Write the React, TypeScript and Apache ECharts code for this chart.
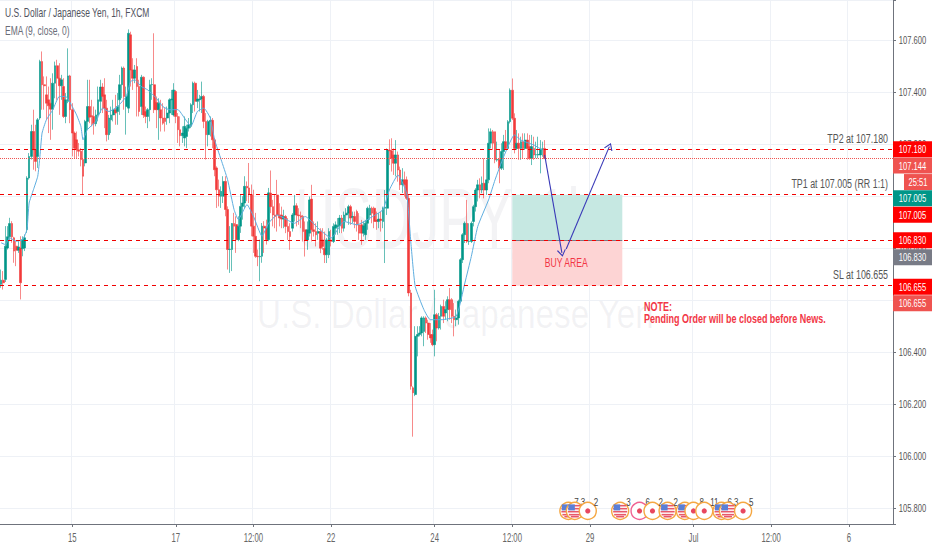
import React, { useEffect, useRef } from "react";
import * as echarts from "echarts";

const barCount = 414;
const tickBars = [33, 81, 117, 153, 201, 237, 273, 321, 357, 393];
const tickLabels = ["15", "17", "12:00", "22", "24", "12:00", "29", "Jul", "12:00", "6"];
const priceTicks = [107.6, 107.4, 107.2, 107.0, 106.8, 106.6, 106.4, 106.2, 106.0, 105.8];

const opens = [106.660,106.676,106.679,106.800,106.843,106.894,106.839,106.807,106.791,106.800,106.797,106.800,106.871,107.069,107.152,107.248,107.178,107.152,107.300,107.517,
107.428,107.389,107.370,107.357,107.334,107.434,107.501,107.453,107.424,107.421,107.306,107.364,107.462,107.332,107.242,107.216,107.178,107.172,107.140,107.127,
107.287,107.344,107.309,107.306,107.278,107.312,107.364,107.419,107.389,107.338,107.236,107.293,107.312,107.332,107.325,107.370,107.428,107.492,107.344,107.338,
107.620,107.485,107.453,107.498,107.421,107.344,107.457,107.325,107.306,107.332,107.428,107.428,107.360,107.332,107.332,107.300,107.300,107.300,107.319,107.370,
107.312,107.402,107.306,107.255,107.232,107.223,107.229,107.261,107.268,107.351,107.434,107.364,107.370,107.373,107.383,107.287,107.236,107.287,107.291,107.216,
107.108,107.024,106.999,106.999,107.056,106.948,106.794,106.794,106.894,106.890,106.832,106.884,106.960,106.973,107.037,107.031,107.005,106.884,106.845,106.768,
106.766,106.768,106.884,106.877,106.832,107.011,106.959,106.927,107.004,106.927,106.927,106.911,106.921,106.883,106.863,106.876,106.927,106.962,106.927,106.924,
106.921,106.870,106.831,106.857,106.988,106.870,106.863,106.857,106.863,106.831,106.799,106.774,106.774,106.831,106.825,106.876,106.883,106.885,106.915,106.876,
106.927,106.934,106.959,106.918,106.921,106.940,106.889,106.889,106.857,106.851,106.895,106.927,106.953,106.953,106.908,106.902,106.911,106.902,106.953,106.953,
107.177,107.174,107.158,107.126,107.158,107.100,107.043,107.062,107.062,106.991,106.627,106.262,106.236,106.460,106.467,106.473,106.479,106.531,106.511,106.467,
106.467,106.428,106.543,106.492,106.537,106.575,106.550,106.563,106.601,106.601,106.537,106.524,106.531,106.595,106.755,106.851,106.895,106.825,106.825,106.902,
106.959,107.023,107.043,107.023,107.049,107.023,107.062,107.203,107.247,107.247,107.139,107.139,107.107,107.171,107.209,107.183,107.286,107.407,107.299,107.183,
107.203,107.183,107.209,107.183,107.215,107.190,107.145,107.183,107.158,107.158,107.158,107.180,107.183];

const closes = [106.676,106.666,106.807,106.843,106.894,106.843,106.788,106.791,106.804,106.666,106.832,106.839,107.069,107.152,107.248,107.178,107.133,107.293,107.517,107.428,
107.424,107.357,107.347,107.334,107.434,107.501,107.453,107.424,107.447,107.306,107.370,107.462,107.332,107.242,107.184,107.178,107.172,107.140,107.076,107.287,
107.344,107.303,107.306,107.278,107.312,107.370,107.419,107.383,107.338,107.236,107.300,107.312,107.332,107.319,107.344,107.428,107.492,107.383,107.383,107.626,
107.485,107.453,107.485,107.421,107.325,107.457,107.312,107.306,107.332,107.428,107.429,107.332,107.332,107.357,107.300,107.280,107.287,107.319,107.370,107.373,
107.408,107.306,107.255,107.232,107.242,107.268,107.261,107.274,107.351,107.434,107.364,107.373,107.373,107.383,107.287,107.236,107.287,107.291,107.216,107.101,
107.024,106.999,107.018,107.056,106.948,106.794,106.795,106.894,106.884,106.832,106.884,106.960,106.973,107.037,107.031,107.005,106.884,106.845,106.768,106.766,
106.768,106.884,106.877,106.832,107.012,106.959,106.927,106.921,106.927,106.915,106.911,106.921,106.883,106.863,106.844,106.927,106.962,106.927,106.924,106.918,
106.863,106.831,106.870,106.985,106.870,106.863,106.851,106.863,106.799,106.806,106.774,106.831,106.863,106.825,106.883,106.889,106.885,106.915,106.876,106.927,
106.934,106.959,106.915,106.921,106.902,106.889,106.857,106.857,106.885,106.895,106.953,106.953,106.934,106.902,106.902,106.911,106.906,106.953,106.957,107.177,
107.174,107.145,107.126,107.158,107.100,107.043,107.062,107.043,106.991,106.627,106.268,106.243,106.460,106.467,106.473,106.531,106.531,106.511,106.467,106.454,
106.428,106.543,106.492,106.537,106.575,106.537,106.563,106.601,106.563,106.537,106.524,106.531,106.595,106.755,106.851,106.895,106.825,106.826,106.895,106.959,
107.023,107.043,107.023,107.049,107.023,107.062,107.203,107.247,107.203,107.139,107.140,107.107,107.171,107.209,107.183,107.286,107.407,107.299,107.183,107.203,
107.183,107.209,107.183,107.215,107.183,107.145,107.190,107.158,107.159,107.160,107.180,107.181,107.144];

const highs = [106.717,106.711,106.884,106.884,106.916,106.903,106.843,106.826,106.826,106.845,106.845,106.852,107.076,107.165,107.274,107.332,107.274,107.300,107.524,107.556,
107.460,107.460,107.421,107.453,107.472,107.517,107.524,107.511,107.466,107.453,107.396,107.568,107.466,107.357,107.248,107.248,107.204,107.184,107.178,107.293,
107.447,107.447,107.370,107.344,107.332,107.421,107.447,107.434,107.453,107.370,107.312,107.344,107.370,107.389,107.396,107.466,107.498,107.498,107.421,107.641,
107.632,107.530,107.504,107.530,107.447,107.466,107.460,107.344,107.338,107.447,107.453,107.626,107.383,107.376,107.370,107.357,107.338,107.344,107.376,107.408,
107.434,107.408,107.319,107.306,107.268,107.306,107.274,107.300,107.357,107.440,107.440,107.408,107.389,107.440,107.389,107.319,107.293,107.306,107.300,107.223,
107.114,107.063,107.037,107.076,107.076,106.960,106.884,106.896,106.935,106.922,106.922,107.005,106.999,107.076,107.056,107.127,107.044,107.024,106.935,106.794,
106.832,106.896,106.903,106.909,107.031,107.098,106.985,107.004,107.062,106.972,106.959,106.947,106.927,106.915,106.895,106.934,107.004,106.972,106.953,106.940,
106.927,106.902,106.902,106.998,107.043,106.902,106.895,106.902,106.876,106.876,106.863,106.838,106.876,106.870,106.895,106.902,106.915,106.927,106.927,106.940,
106.953,106.966,106.966,106.940,106.940,106.947,106.934,106.908,106.902,106.908,106.959,106.966,106.959,106.959,106.940,106.934,106.940,106.959,107.023,107.183,
107.218,107.222,107.183,107.215,107.171,107.113,107.107,107.094,107.075,107.004,106.639,106.268,106.499,106.499,106.499,106.537,106.537,106.537,106.524,106.511,
106.486,106.639,106.550,106.550,106.582,106.601,106.595,106.614,106.646,106.607,106.588,106.563,106.601,106.761,106.857,106.902,106.985,106.895,106.902,106.966,
107.030,107.062,107.068,107.075,107.145,107.139,107.260,107.260,107.254,107.247,107.209,107.177,107.203,107.235,107.254,107.292,107.414,107.452,107.318,107.254,
107.241,107.228,107.241,107.241,107.241,107.235,107.235,107.228,107.209,107.228,107.215,107.209,107.215];

const lows = [106.647,106.640,106.669,106.794,106.826,106.820,106.743,106.730,106.781,106.602,106.768,106.788,106.858,107.063,107.140,107.101,107.095,107.108,107.293,107.332,
107.332,107.293,107.242,107.216,107.255,107.376,107.370,107.312,107.370,107.300,107.280,107.357,107.280,107.152,107.146,107.146,107.152,107.114,107.005,107.114,
107.255,107.280,107.268,107.236,107.268,107.287,107.319,107.319,107.261,107.210,107.216,107.242,107.287,107.274,107.274,107.312,107.376,107.332,107.236,107.319,
107.421,107.408,107.434,107.306,107.306,107.312,107.300,107.280,107.261,107.287,107.370,107.319,107.261,107.216,107.248,107.274,107.248,107.274,107.280,107.312,
107.306,107.280,107.204,107.191,107.204,107.191,107.184,107.248,107.261,107.319,107.325,107.338,107.325,107.319,107.261,107.140,107.191,107.229,107.184,107.076,
106.954,106.960,106.954,106.973,106.922,106.717,106.704,106.711,106.832,106.781,106.826,106.858,106.909,106.954,106.980,106.973,106.845,106.781,106.762,106.730,
106.672,106.743,106.781,106.813,106.826,106.934,106.883,106.876,106.863,106.883,106.876,106.876,106.857,106.831,106.793,106.863,106.902,106.883,106.889,106.876,
106.825,106.767,106.793,106.844,106.825,106.844,106.806,106.831,106.780,106.793,106.742,106.742,106.761,106.806,106.819,106.851,106.851,106.857,106.857,106.863,
106.902,106.889,106.889,106.895,106.876,106.863,106.831,106.812,106.844,106.831,106.870,106.908,106.895,106.876,106.870,106.876,106.863,106.876,106.742,106.927,
107.119,107.094,107.081,107.075,107.055,107.023,107.011,106.998,106.985,106.614,106.255,106.074,106.230,106.383,106.460,106.460,106.422,106.473,106.447,106.435,
106.422,106.383,106.441,106.486,106.486,106.511,106.524,106.518,106.524,106.511,106.460,106.499,106.505,106.588,106.742,106.819,106.819,106.812,106.819,106.883,
106.940,106.979,106.991,107.011,106.991,107.004,107.049,107.183,107.177,107.126,107.132,107.049,107.100,107.100,107.177,107.177,107.279,107.292,107.164,107.177,
107.139,107.139,107.145,107.177,107.139,107.139,107.119,107.139,107.145,107.145,107.087,107.151,107.144];

const emaBars = [0,2,4,7,10,12,13,15,17,18,19,21,24,27,30,33,35,37,38,40,44,47,50,54,58,60,62,65,68,72,75,78,82,85,88,91,94,97,99,102,105,108,110,114,117,121,124,128,136,141,147,153,159,165,171,177,180,184,188,190,192,196,199,204,211,215,218,221,226,229,233,238,241,247,251];
const emaValues = [106.820,106.813,106.839,106.826,106.832,106.871,106.973,107.024,107.076,107.152,107.242,107.293,107.332,107.383,107.383,107.344,107.312,107.268,107.216,107.255,107.287,107.338,107.325,107.344,107.383,107.440,107.447,107.421,107.408,107.376,107.344,107.332,107.332,107.300,107.268,107.325,107.338,107.300,107.216,107.140,107.063,106.948,106.909,106.967,106.922,106.845,106.895,106.927,106.895,106.921,106.876,106.838,106.902,106.889,106.915,106.947,107.023,107.081,107.011,106.819,106.652,106.563,106.524,106.524,106.537,106.665,106.767,106.883,106.985,107.062,107.151,107.235,107.215,107.196,107.177];

const refLevels = [107.18, 107.005, 106.83, 106.655];
const refTexts = ["TP2 at 107.180", "TP1 at 107.005 (RR 1:1)", "", "SL at 106.655"];
const currentPrice = 107.144;
const buyBars = [237, 288];
const downBars = [252, 260];
const downPrices = [107.158, 106.781];
const upBars = [262, 282];
const upPrices = [106.796, 107.19];
const buyLabelBar = 262;
const buyLabelPrice = 106.742;

const tagPrices = [107.18, 107.144, 107.144, 107.005, 107.005, 106.83, 106.83, 106.655, 106.655];
const tagTexts = ["107.180", "107.144", "25:51", "107.005", "107.005", "106.830", "106.830", "106.655", "106.655"];
const tagColors = ["#ff0000", "#ef5350", "#ef5350", "#009688", "#ff0000", "#ff0000", "#787b86", "#ff0000", "#ef5350"];
const tagShifts = [0, 7, 23.5, 3.5, 20, 0, 17, 1, 17.5];

const eventBars = [263, 266, 272, 287, 296, 302, 309, 317, 321, 326, 334, 337, 344];
const eventKinds = ["us", "us", "jp", "us", "jpp", "jp", "us", "us", "jp", "jp", "us", "us", "jp"];
const eventTexts = ["7", "3", "2", "3", "6", "2", "2", "", "8", "11", "6", "3", "5"];

const FONT = '"Liberation Sans", sans-serif';

const txt = (text: string, x: number, y: number, size: number, fill: string, scaleX: number, align = "left", weight = "normal") => ({
  type: "text",
  x,
  y,
  scaleX,
  silent: true,
  style: { text, x: 0, y: 0, fill, font: `${weight} ${size}px ${FONT}`, align, verticalAlign: "middle" },
});

export default function App() {
  const ref = useRef<HTMLDivElement>(null);
  useEffect(() => {
    const chart = echarts.init(ref.current!, undefined, { renderer: "svg" });
    const cats = Array.from({ length: barCount }, (_, i) => String(i));
    const isTick = (i: number) => tickBars.includes(i);
    const candleData = opens.map((o, i) => [o, closes[i], lows[i], highs[i]]);

    const renderTag = (params: any, api: any) => {
      const i = params.dataIndex;
      const y = api.coord([0, api.value(1)])[1] + tagShifts[i];
      const isTimer = tagTexts[i] === "25:51";
      const left = isTimer ? 904 : 893;
      return {
        type: "group",
        children: [
          { type: "rect", shape: { x: left, y: y - 8, width: 932 - left, height: 16 }, style: { fill: tagColors[i] } },
          txt(tagTexts[i], isTimer ? 918 : 912.5, y, 11.5, "#fff", 0.66, "center"),
        ],
      };
    };

    const renderPriceLabel = (_: any, api: any) => {
      const y = api.coord([0, api.value(1)])[1];
      return txt(api.value(1).toFixed(3), 912.5, y, 11.5, "#555", 0.66, "center");
    };

    const renderTimeLabel = (params: any, api: any) => {
      const x = api.coord([api.value(0), 0])[0];
      return txt(tickLabels[params.dataIndex], x, 537.5, 12.5, "#666", 0.62, "center");
    };

    const renderRefText = (params: any, api: any) => {
      const y = api.coord([0, api.value(1)])[1];
      return txt(refTexts[params.dataIndex], 888, y - 11, 12.5, "#555", 0.71, "right");
    };

    const renderBuyLabel = (_: any, api: any) => {
      const c = api.coord([api.value(0), api.value(1)]);
      return txt("BUY AREA", c[0], c[1], 12, "#f23645", 0.72, "center");
    };

    const renderEvent = (params: any, api: any) => {
      const i = params.dataIndex;
      const c = api.coord([api.value(0), api.value(1)]);
      const cx = c[0];
      const cy = c[1] + 3;
      const kind = eventKinds[i];
      const ringColor = kind === "jpp" ? "#f06292" : "#f5a742";
      const children: any[] = [
        { type: "circle", shape: { cx, cy, r: 8.5 }, style: { fill: "#fff", stroke: ringColor, lineWidth: 1.4 } },
      ];
      if (kind === "us") {
        [[-6, 12], [-3, 14], [0, 14], [3, 12], [5, 8]].forEach(([dy, w]) => {
          children.push({ type: "rect", shape: { x: cx - w / 2, y: cy + dy, width: w, height: 1.6 }, style: { fill: "#e8596a" } });
        });
        children.push({ type: "rect", shape: { x: cx - 6.5, y: cy - 6.5, width: 6.5, height: 6 }, style: { fill: "#5a7fd6" } });
      } else {
        children.push({ type: "circle", shape: { cx, cy, r: 2.6 }, style: { fill: "#e8475f" } });
      }
      if (eventTexts[i]) {
        children.push(txt(eventTexts[i], cx + 6, cy - 8, 10, "#444", 0.8, "left"));
      }
      return { type: "group", children };
    };

    const arrowSeries = (bars: number[], prices: number[], rotate: number) => ({
      type: "line",
      z: 6,
      data: bars.map((b, i) => {
        const isLast = i === bars.length - 1;
        return {
          value: [b, prices[i]],
          symbol: isLast ? "path://M0 10 L6 0 L12 10 L6 0 Z" : "none",
          symbolSize: isLast ? [8, 6] : 0,
          symbolRotate: isLast ? rotate : 0,
          itemStyle: { color: "#3a3ab8", borderColor: "#3a3ab8", borderWidth: 1 },
        };
      }),
      showSymbol: true,
      showAllSymbol: true,
      lineStyle: { color: "#3a3ab8", width: 1.1 },
    });

    chart.setOption({
      animation: false,
      backgroundColor: "#fff",
      grid: { left: 0, right: 39, top: 0, bottom: 26, outerBoundsMode: "none", containLabel: false },
      xAxis: {
        type: "category",
        data: cats,
        boundaryGap: true,
        axisLine: { lineStyle: { color: "#6f737c", width: 1 } },
        axisTick: { show: true, alignWithLabel: true, length: 3, interval: (i: number) => isTick(i), lineStyle: { color: "#6f737c" } },
        axisLabel: { show: false },
        splitLine: { show: true, interval: (i: number) => isTick(i), lineStyle: { color: "#eef1f6", width: 1 } },
      },
      yAxis: {
        type: "value",
        position: "right",
        min: 105.738,
        max: 107.754,
        splitNumber: 10,
        axisLine: { show: true, lineStyle: { color: "#6f737c", width: 1 } },
        axisTick: { show: true, length: 3, lineStyle: { color: "#6f737c" } },
        axisLabel: { show: false },
        splitLine: { show: true, lineStyle: { color: "#eef1f6", width: 1 } },
      },
      graphic: [
        { ...txt("USDJPY, 1h", 295, 218, 85, "rgba(120,125,140,0.09)", 0.65), z: 0 },
        { ...txt("U.S. Dollar / Japanese Yen", 257, 314, 40, "rgba(120,125,140,0.09)", 0.83), z: 0 },
        { ...txt("U.S. Dollar / Japanese Yen, 1h, FXCM", 5, 12, 12.5, "#50535e", 0.68), z: 50 },
        { ...txt("EMA (9, close, 0)", 5, 30, 12.5, "#6a6d78", 0.68), z: 50 },
        { ...txt("NOTE:", 644, 306, 12, "#f23645", 0.75, "left", "bold"), z: 50 },
        { ...txt("Pending Order will be closed before News.", 644, 318.5, 12, "#f23645", 0.75, "left", "bold"), z: 50 },
      ],
      series: [
        {
          type: "candlestick",
          name: "USDJPY",
          z: 3,
          data: candleData,
          barWidth: 2.2,
          itemStyle: { color: "#009688", color0: "#f23a3a", borderColor: "#009688", borderColor0: "#f23a3a", borderWidth: 0.6 },
          markArea: {
            silent: true,
            data: [
              [
                { xAxis: buyBars[0], yAxis: refLevels[1], itemStyle: { color: "rgb(198,232,226)" } },
                { xAxis: buyBars[1], yAxis: refLevels[2] },
              ],
              [
                { xAxis: buyBars[0], yAxis: refLevels[2], itemStyle: { color: "rgb(253,212,212)" } },
                { xAxis: buyBars[1], yAxis: refLevels[3] },
              ],
            ],
          },
          markLine: {
            silent: true,
            symbol: "none",
            precision: 3,
            label: { show: false },
            data: [
              [
                { xAxis: buyBars[0], yAxis: refLevels[2], lineStyle: { color: "#787b86", type: "solid", width: 1 } },
                { xAxis: buyBars[1], yAxis: refLevels[2] },
              ],
              ...refLevels.map((lv) => ({
                yAxis: lv,
                lineStyle: { color: "#f00000", type: [4, 4] as any, width: 1.2 },
              })),
              {
                yAxis: currentPrice,
                lineStyle: { color: "#ef5350", type: [1, 1] as any, width: 1 },
              },
            ],
          },
        },
        {
          type: "line",
          name: "EMA",
          z: 4,
          data: emaBars.map((b, i) => [b, emaValues[i]]),
          showSymbol: false,
          symbol: "none",
          smooth: 0.15,
          lineStyle: { color: "#5eaee0", width: 1 },
        },
        arrowSeries(downBars, downPrices, -170),
        arrowSeries(upBars, upPrices, -23),
        { type: "custom", name: "RefText", z: 8, clip: false, silent: true, data: refLevels.map((p) => [0, p]), renderItem: renderRefText },
        { type: "custom", name: "BuyLabel", z: 8, clip: false, silent: true, data: [[buyLabelBar, buyLabelPrice]], renderItem: renderBuyLabel },
        { type: "custom", name: "PriceLabels", z: 9, clip: false, silent: true, data: priceTicks.map((p) => [0, p]), renderItem: renderPriceLabel },
        { type: "custom", name: "TimeLabels", z: 9, clip: false, silent: true, data: tickBars.map((b) => [b, 106]), renderItem: renderTimeLabel },
        { type: "custom", name: "Tags", z: 20, clip: false, silent: true, data: tagPrices.map((p) => [0, p]), renderItem: renderTag },
        { type: "custom", name: "Events", z: 10, clip: false, silent: true, data: eventBars.map((b) => [b, 105.8]), renderItem: renderEvent },
      ],
    });
    return () => chart.dispose();
  }, []);
  return <div ref={ref} style={{ position: "fixed", left: 0, top: 0, width: 932, height: 550 }} />;
}
